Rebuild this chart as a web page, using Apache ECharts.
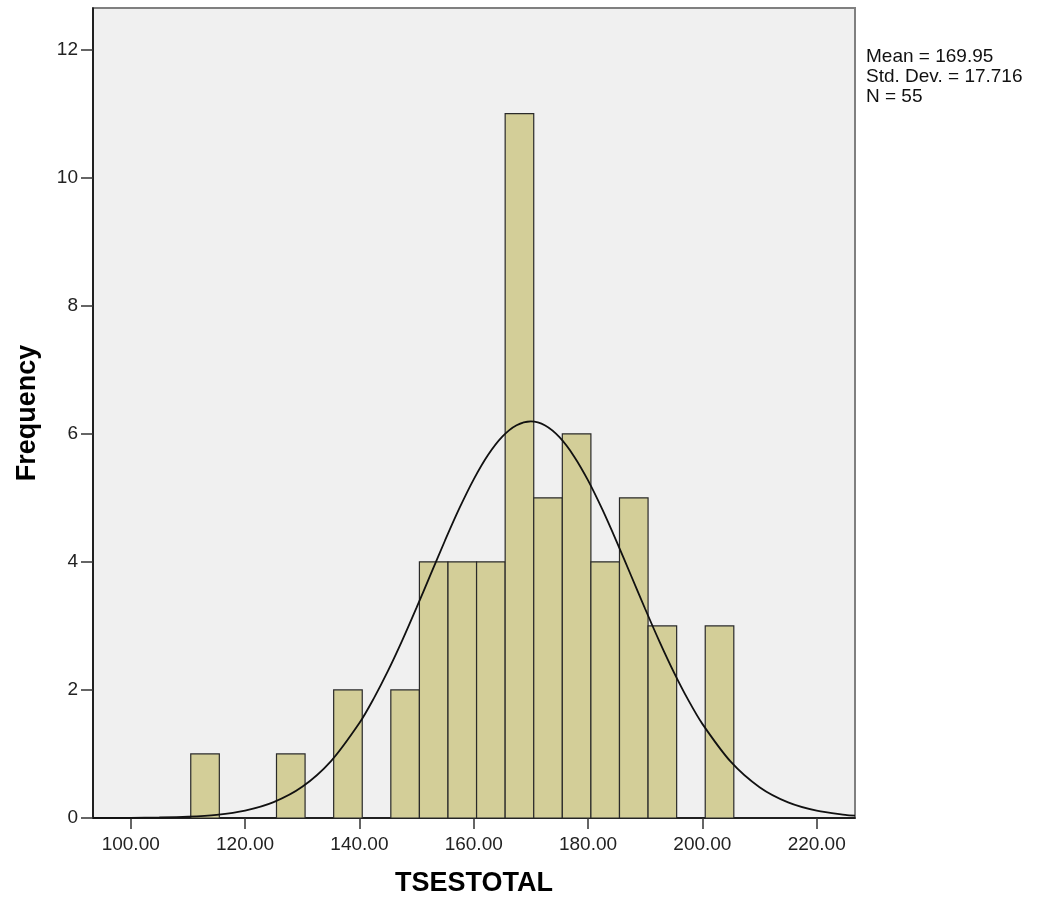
<!DOCTYPE html>
<html>
<head>
<meta charset="utf-8">
<script src="https://cdn.jsdelivr.net/npm/echarts@6/dist/echarts.min.js"></script>
<style>
html,body{margin:0;padding:0;background:#fff;}
#c{width:1038px;height:904px;}
</style>
</head>
<body>
<div id="c"></div>
<script>
// Histogram bins: [start, end, frequency]
const binStarts = [110.5, 125.5, 135.5, 145.5, 150.5, 155.5, 160.5, 165.5, 170.5, 175.5, 180.5, 185.5, 190.5, 200.5];
const binEnds   = [115.5, 130.5, 140.5, 150.5, 155.5, 160.5, 165.5, 170.5, 175.5, 180.5, 185.5, 190.5, 195.5, 205.5];
const freqs     = [1, 1, 2, 2, 4, 4, 4, 11, 5, 6, 4, 5, 3, 3];

// Normal curve
const curveX = [93.4, 95, 100, 105, 110, 115, 120, 125, 130, 135, 140, 142.5, 145, 147.5, 150, 152.5, 155, 157.5, 160, 162.5, 165, 167.5, 170, 172.5, 175, 177.5, 180, 182.5, 185, 187.5, 190, 192.5, 195, 197.5, 200, 205, 210, 215, 220, 225, 226.7];
const curveY = [0.0005, 0.0008, 0.0026, 0.0075, 0.020, 0.050, 0.116, 0.248, 0.487, 0.885, 1.483, 1.865, 2.297, 2.774, 3.285, 3.812, 4.338, 4.838, 5.289, 5.669, 5.956, 6.134, 6.193, 6.129, 5.947, 5.655, 5.273, 4.819, 4.317, 3.791, 3.264, 2.755, 2.279, 1.848, 1.470, 0.875, 0.481, 0.244, 0.115, 0.050, 0.037];

const xTicks = [100, 120, 140, 160, 180, 200, 220];
const yTicks = [0, 2, 4, 6, 8, 10, 12];
const statsLines = ['Mean = 169.95', 'Std. Dev. = 17.716', 'N = 55'];

const chart = echarts.init(document.getElementById('c'));
const FONT = '"Liberation Sans", Arial, sans-serif';

const option = {
  backgroundColor: '#ffffff',
  animation: false,
  grid: {
    left: 93, right: 183, top: 8, bottom: 86,
    show: true, backgroundColor: '#f0f0f0', borderColor: '#808080', borderWidth: 2
  },
  xAxis: {
    type: 'value', min: 93.4, max: 226.7,
    name: 'TSESTOTAL', nameLocation: 'middle', nameGap: 52,
    nameTextStyle: { fontFamily: FONT, fontSize: 27, fontWeight: 'bold', color: '#000' },
    axisLine: { show: true, onZero: false, lineStyle: { color: '#000', width: 1.5 } },
    axisTick: { show: true, length: 11, lineStyle: { color: '#333', width: 1.5 }, customValues: xTicks },
    axisLabel: { customValues: xTicks, margin: 17, fontFamily: FONT, fontSize: 19, color: '#222',
      formatter: v => Number(v).toFixed(2) },
    splitLine: { show: false }
  },
  yAxis: {
    type: 'value', min: 0, max: 12.65,
    name: 'Frequency', nameLocation: 'middle', nameGap: 52,
    nameTextStyle: { fontFamily: FONT, fontSize: 27, fontWeight: 'bold', color: '#000' },
    axisLine: { show: true, onZero: false, lineStyle: { color: '#000', width: 1.5 } },
    axisTick: { show: true, length: 12, lineStyle: { color: '#333', width: 1.5 }, customValues: yTicks },
    axisLabel: { customValues: yTicks, margin: 15, fontFamily: FONT, fontSize: 19, color: '#222' },
    splitLine: { show: false }
  },
  series: [
    {
      type: 'custom',
      z: 2,
      renderItem: function (params, api) {
        const p0 = api.coord([api.value(0), 0]);
        const p1 = api.coord([api.value(1), api.value(2)]);
        return {
          type: 'rect',
          shape: { x: p0[0], y: p1[1], width: p1[0] - p0[0], height: p0[1] - p1[1] },
          style: { fill: '#d3ce98', stroke: '#2a2a2a', lineWidth: 1.2 }
        };
      },
      encode: { x: [0, 1], y: 2 },
      data: binStarts.map((s, i) => [s, binEnds[i], freqs[i]])
    },
    {
      type: 'line',
      z: 3,
      smooth: 0.3,
      symbol: 'none',
      lineStyle: { color: '#111', width: 1.8 },
      data: curveX.map((x, i) => [x, curveY[i]])
    }
  ],
  graphic: statsLines.map((t, i) => ({
    type: 'text', left: 866, top: 47 + i * 20,
    style: { text: t, font: '19px "Liberation Sans", Arial, sans-serif', fill: '#111' }
  }))
};
chart.setOption(option);
</script>
</body>
</html>
